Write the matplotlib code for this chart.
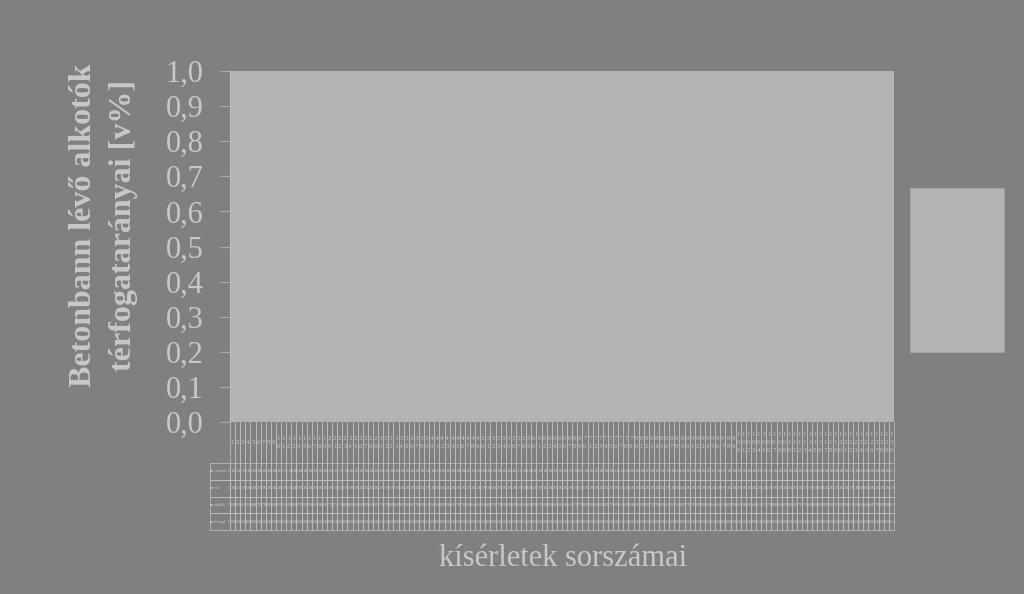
import matplotlib
matplotlib.use("Agg")
import matplotlib.pyplot as plt
from matplotlib.patches import Rectangle

# ---------------- data ----------------
series_names = ["cement", "víz", "adalék", "levegő"]

cement = [
    0.12, 0.12, 0.13, 0.13, 0.14, 0.11, 0.11, 0.12, 0.12, 0.13,
    0.13, 0.14, 0.14, 0.11, 0.12, 0.12, 0.13, 0.13, 0.14, 0.10,
    0.11, 0.11, 0.12, 0.12, 0.13, 0.13, 0.14, 0.14, 0.15, 0.10,
    0.11, 0.12, 0.12, 0.13, 0.13, 0.14, 0.11, 0.12, 0.12, 0.13,
    0.13, 0.14, 0.14, 0.15, 0.11, 0.11, 0.12, 0.12, 0.13, 0.13,
    0.14, 0.10, 0.11, 0.12, 0.12, 0.13, 0.13, 0.14, 0.14, 0.11,
    0.11, 0.12, 0.12, 0.13, 0.13, 0.14, 0.15, 0.10, 0.11, 0.12,
    0.12, 0.13, 0.14, 0.14, 0.11, 0.12, 0.12, 0.13, 0.13, 0.14,
    0.14, 0.15, 0.11, 0.11, 0.12, 0.13, 0.13, 0.14, 0.14, 0.10,
    0.11, 0.12, 0.12, 0.13, 0.13, 0.14, 0.11, 0.12, 0.12, 0.13,
    0.13, 0.14, 0.14, 0.15, 0.11, 0.11, 0.12, 0.12, 0.13, 0.13,
    0.14, 0.10, 0.11, 0.12, 0.12, 0.13, 0.14, 0.14, 0.11, 0.12,
    0.12, 0.13, 0.13, 0.14, 0.14, 0.15, 0.11, 0.12, 0.12, 0.13,
]
water = [
    0.18, 0.17, 0.18, 0.19, 0.18, 0.17, 0.16, 0.17, 0.18, 0.18,
    0.19, 0.19, 0.20, 0.17, 0.17, 0.18, 0.18, 0.19, 0.19, 0.16,
    0.16, 0.17, 0.17, 0.18, 0.18, 0.19, 0.19, 0.20, 0.20, 0.16,
    0.17, 0.17, 0.18, 0.18, 0.19, 0.19, 0.17, 0.17, 0.18, 0.18,
    0.19, 0.19, 0.20, 0.20, 0.16, 0.17, 0.17, 0.18, 0.18, 0.19,
    0.19, 0.16, 0.16, 0.17, 0.18, 0.18, 0.19, 0.19, 0.20, 0.17,
    0.17, 0.18, 0.18, 0.19, 0.19, 0.20, 0.20, 0.16, 0.17, 0.17,
    0.18, 0.18, 0.19, 0.19, 0.17, 0.17, 0.18, 0.18, 0.19, 0.19,
    0.20, 0.20, 0.16, 0.17, 0.17, 0.18, 0.18, 0.19, 0.19, 0.16,
    0.17, 0.17, 0.18, 0.18, 0.19, 0.19, 0.17, 0.17, 0.18, 0.18,
    0.19, 0.19, 0.20, 0.20, 0.16, 0.17, 0.17, 0.18, 0.18, 0.19,
    0.19, 0.16, 0.17, 0.17, 0.18, 0.18, 0.19, 0.20, 0.17, 0.17,
    0.18, 0.18, 0.19, 0.19, 0.20, 0.20, 0.16, 0.17, 0.18, 0.18,
]
aggregate = [
    0.68, 0.69, 0.67, 0.66, 0.66, 0.70, 0.71, 0.69, 0.68, 0.67,
    0.66, 0.65, 0.64, 0.70, 0.69, 0.68, 0.67, 0.66, 0.65, 0.72,
    0.71, 0.70, 0.69, 0.68, 0.67, 0.66, 0.65, 0.64, 0.63, 0.72,
    0.70, 0.69, 0.68, 0.67, 0.66, 0.65, 0.70, 0.69, 0.68, 0.67,
    0.66, 0.65, 0.64, 0.63, 0.71, 0.70, 0.69, 0.68, 0.67, 0.66,
    0.65, 0.72, 0.71, 0.69, 0.68, 0.67, 0.66, 0.65, 0.64, 0.70,
    0.70, 0.68, 0.68, 0.66, 0.66, 0.64, 0.63, 0.72, 0.70, 0.69,
    0.68, 0.67, 0.65, 0.65, 0.70, 0.69, 0.68, 0.67, 0.66, 0.65,
    0.64, 0.63, 0.71, 0.70, 0.69, 0.67, 0.67, 0.65, 0.65, 0.72,
    0.70, 0.69, 0.68, 0.67, 0.66, 0.65, 0.70, 0.69, 0.68, 0.67,
    0.66, 0.65, 0.64, 0.63, 0.71, 0.70, 0.69, 0.68, 0.67, 0.66,
    0.65, 0.72, 0.70, 0.69, 0.68, 0.67, 0.65, 0.64, 0.70, 0.69,
    0.68, 0.67, 0.66, 0.65, 0.64, 0.63, 0.71, 0.69, 0.68, 0.67,
]
air = [
    0.02, 0.02, 0.02, 0.02, 0.02, 0.02, 0.02, 0.02, 0.02, 0.02,
    0.02, 0.02, 0.02, 0.02, 0.02, 0.02, 0.02, 0.02, 0.02, 0.02,
    0.02, 0.02, 0.02, 0.02, 0.02, 0.02, 0.02, 0.02, 0.02, 0.02,
    0.02, 0.02, 0.02, 0.02, 0.02, 0.02, 0.02, 0.02, 0.02, 0.02,
    0.02, 0.02, 0.02, 0.02, 0.02, 0.02, 0.02, 0.02, 0.02, 0.02,
    0.02, 0.02, 0.02, 0.02, 0.02, 0.02, 0.02, 0.02, 0.02, 0.02,
    0.02, 0.02, 0.02, 0.02, 0.02, 0.02, 0.02, 0.02, 0.02, 0.02,
    0.02, 0.02, 0.02, 0.02, 0.02, 0.02, 0.02, 0.02, 0.02, 0.02,
    0.02, 0.02, 0.02, 0.02, 0.02, 0.02, 0.02, 0.02, 0.02, 0.02,
    0.02, 0.02, 0.02, 0.02, 0.02, 0.02, 0.02, 0.02, 0.02, 0.02,
    0.02, 0.02, 0.02, 0.02, 0.02, 0.02, 0.02, 0.02, 0.02, 0.02,
    0.02, 0.02, 0.02, 0.02, 0.02, 0.02, 0.02, 0.02, 0.02, 0.02,
    0.02, 0.02, 0.02, 0.02, 0.02, 0.02, 0.02, 0.02, 0.02, 0.02,
]
series = [cement, water, aggregate, air]
n_cat = len(cement)
categories = [str(i) for i in range(1, n_cat + 1)]
y_ticks = [0.0, 0.1, 0.2, 0.3, 0.4, 0.5, 0.6, 0.7, 0.8, 0.9, 1.0]
y_tick_labels = ["0,0", "0,1", "0,2", "0,3", "0,4", "0,5", "0,6", "0,7", "0,8", "0,9", "1,0"]

# ---------------- style ----------------
BG = "#808080"
PLOT_BG = "#b3b3b3"
TXT = "#c8c8c8"
GRID = "#c2c2c2"
W, H = 1024, 594

plt.rcParams["font.family"] = ["Liberation Serif", "DejaVu Serif"]

fig = plt.figure(figsize=(W / 100, H / 100), dpi=100, facecolor=BG)
ax = fig.add_axes([230 / W, (H - 422) / H, 664 / W, 351 / H])
ax.set_facecolor(PLOT_BG)

x = list(range(n_cat))
bottom = [0.0] * n_cat
for vals in series:
    ax.bar(x, vals, bottom=bottom, width=0.5, color=PLOT_BG, edgecolor="none", zorder=2)
    bottom = [b + v for b, v in zip(bottom, vals)]

ax.set_xlim(-0.5, n_cat - 0.5)
ax.set_ylim(0, 1.0)
ax.set_yticks(y_ticks)
ax.set_yticklabels(y_tick_labels, fontsize=22, color=TXT)
ax.set_xticks([])
ax.tick_params(axis="y", direction="out", length=7.2, width=0.8, color="#aaaaaa", pad=12)
for s in ["top", "right", "bottom"]:
    ax.spines[s].set_visible(False)
ax.spines["left"].set_color("#bdbdbd")
ax.spines["left"].set_linewidth(0.8)

# y label (two lines, bold)
fig.text(84 / W, 1 - 225 / H, "Betonbann lévő alkotók", rotation=90, ha="center", va="center",
         fontsize=23, fontweight="bold", color=TXT)
fig.text(124 / W, 1 - 225 / H, "térfogatarányai [v%]", rotation=90, ha="center", va="center",
         fontsize=23, fontweight="bold", color=TXT)

# x label
fig.text(563 / W, 1 - 558 / H, "kísérletek sorszámai", ha="center", va="center",
         fontsize=22, color=TXT)

# data table
cell_text = [[("%.2f" % v).replace(".", ",") for v in vals] for vals in series]
col_labels = ["\n".join(c) for c in categories]
row_labels = ["■ " + n for n in series_names]
col_w = 1.0 / n_cat
tbl = ax.table(cellText=cell_text, rowLabels=row_labels, colLabels=col_labels,
               colWidths=[col_w] * n_cat,
               cellLoc="center", rowLoc="left",
               bbox=[0, -(530 - 422) / 351, 1, (530 - 422) / 351])
tbl.auto_set_font_size(False)
tbl.set_fontsize(3.6)
tbl._autoColumns = []
row_h = 16.75
head_h = 41
for (r, c), cell in tbl.get_celld().items():
    cell.set_edgecolor(GRID)
    cell.set_linewidth(0.5)
    cell.set_facecolor("none")
    t = cell.get_text()
    t.set_color(TXT)
    cell.PAD = 0.02
    if c == -1:
        cell.set_width(col_w * 3.9)
        t.set_fontsize(3.2)
    if r == 0:
        cell.set_height(head_h)
        cell.visible_edges = "LR"
        t.set_fontsize(5)
        t.set_linespacing(1.75)
    else:
        cell.set_height(row_h)

# legend box
fig.patches.append(Rectangle((910 / W, (H - 352) / H), 94 / W, 164 / H,
                             transform=fig.transFigure, facecolor=PLOT_BG,
                             edgecolor="#a6a6a6", linewidth=0.6))

fig.savefig("out.png", dpi=100, facecolor=BG)
